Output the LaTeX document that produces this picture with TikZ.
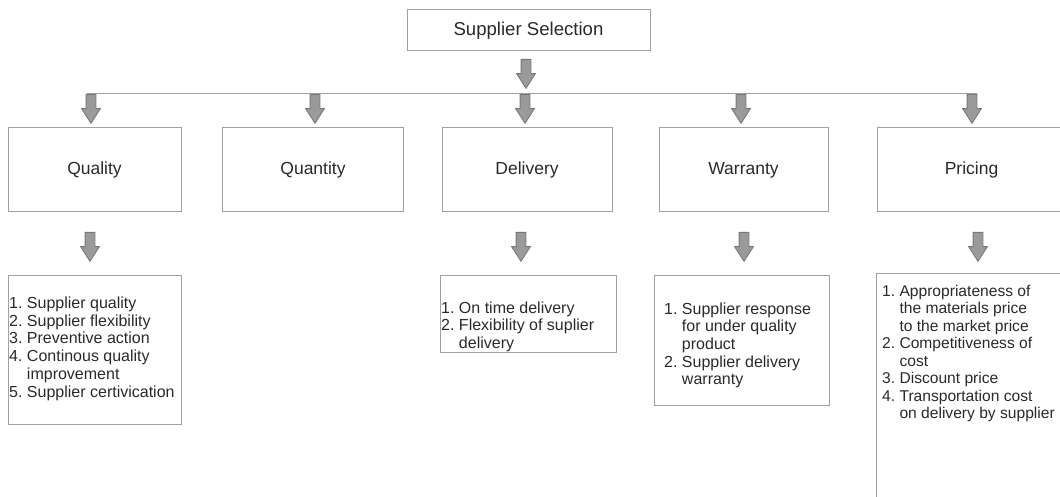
\documentclass[tikz,border=0pt]{standalone}
\usepackage{fontspec}
\setmainfont{Liberation Sans}
\usetikzlibrary{shapes.arrows}

\definecolor{txtgray}{HTML}{2A2A2A}
\definecolor{boxgray}{HTML}{A0A0A0}
\definecolor{arrowfill}{HTML}{9A9A9A}
\definecolor{arrowline}{HTML}{777777}

\tikzset{
  box/.style={
    draw=boxgray,
    line width=1pt,
    fill=white,
    inner sep=0pt,
    text=txtgray
  },
  headbox/.style={
    box,
    minimum height=84pt,
    font=\fontsize{17.5}{20}\selectfont
  },
  listtext/.style={
    anchor=base west,
    inner sep=0pt,
    text=txtgray,
    font=\fontsize{16}{17.7}\selectfont
  },
  blockarrow/.style={
    single arrow,
    draw=arrowline,
    fill=arrowfill,
    line width=0.8pt,
    inner sep=4.5pt,
    minimum height=29pt,
    single arrow head extend=4.5pt,
    single arrow tip angle=65,
    rotate=-90,
    anchor=tail
  },
  busline/.style={
    draw=boxgray,
    line width=1pt
  }
}

\begin{document}
\begin{tikzpicture}[x=1pt,y=-1pt]
    \clip (0,0) rectangle (1060,497);
    \fill[white] (0,0) rectangle (1060,497);

    % top box
    \node[box, minimum width=243pt, minimum height=41pt,
        font=\fontsize{18.6}{21}\selectfont] (sel) at (528.5,30.5) {Supplier Selection};
    \node[blockarrow] (a-sel) at (526,59) {};

    % arrows from the bus down to the criteria
    \node[blockarrow] (a-qual) at (91,94) {};
    \node[blockarrow] (a-quan) at (315,94) {};
    \node[blockarrow] (a-deli) at (525,94) {};
    \node[blockarrow] (a-warr) at (741,94) {};
    \node[blockarrow] (a-pric) at (972,94) {};
    \draw[busline] ([xshift=-4.5pt]a-qual.tail) -- ([xshift=4.5pt]a-pric.tail);

    % criteria
    \node[headbox, minimum width=173pt] (qual) at (94.5,170) {Quality};
    \node[headbox, minimum width=181pt] (quan) at (313,170) {Quantity};
    \node[headbox, minimum width=170pt] (deli) at (527,170) {Delivery};
    \node[headbox, minimum width=169pt] (warr) at (743.5,170) {Warranty};
    \node[headbox, minimum width=189pt] (pric) at (971.5,170) {Pricing};

    % arrows to the sub-criteria
    \node[blockarrow] (b-qual) at (90,232) {};
    \node[blockarrow] (b-deli) at (521,232) {};
    \node[blockarrow] (b-warr) at (744,232) {};
    \node[blockarrow] (b-pric) at (978,232) {};

    % sub-criteria boxes
    \node[box, minimum width=173pt, minimum height=149pt] (lqual) at (94.5,349.5) {};
    \node[box, minimum width=176pt, minimum height=77pt] (ldeli) at (528,313.5) {};
    \node[box, minimum width=175pt, minimum height=130pt] (lwarr) at (741.5,340) {};
    \node[box, minimum width=200pt, minimum height=250pt] (lpric) at (976,398) {};

    \node[listtext] (tqual) at (9,308.5) {\begin{tabular}[t]{@{}l@{\ }l@{}}
        1. & Supplier quality\\
        2. & Supplier flexibility\\
        3. & Preventive action\\
        4. & Continous quality\\
           & improvement\\
        5. & Supplier certivication
    \end{tabular}};
    \node[listtext] (tdeli) at (441,313) {\begin{tabular}[t]{@{}l@{\ }l@{}}
        1. & On time delivery\\
        2. & Flexibility of suplier\\
           & delivery
    \end{tabular}};
    \node[listtext] (twarr) at (664,314) {\begin{tabular}[t]{@{}l@{\ }l@{}}
        1. & Supplier response\\
           & for under quality\\
           & product\\
        2. & Supplier delivery\\
           & warranty
    \end{tabular}};
    \node[listtext, font=\fontsize{15.6}{17.5}\selectfont] (tpric) at (882,296) {\begin{tabular}[t]{@{}l@{\ }l@{}}
        1. & Appropriateness of\\
           & the materials price\\
           & to the market price\\
        2. & Competitiveness of\\
           & cost\\
        3. & Discount price\\
        4. & Transportation cost\\
           & on delivery by supplier
    \end{tabular}};
\end{tikzpicture}
\end{document}
